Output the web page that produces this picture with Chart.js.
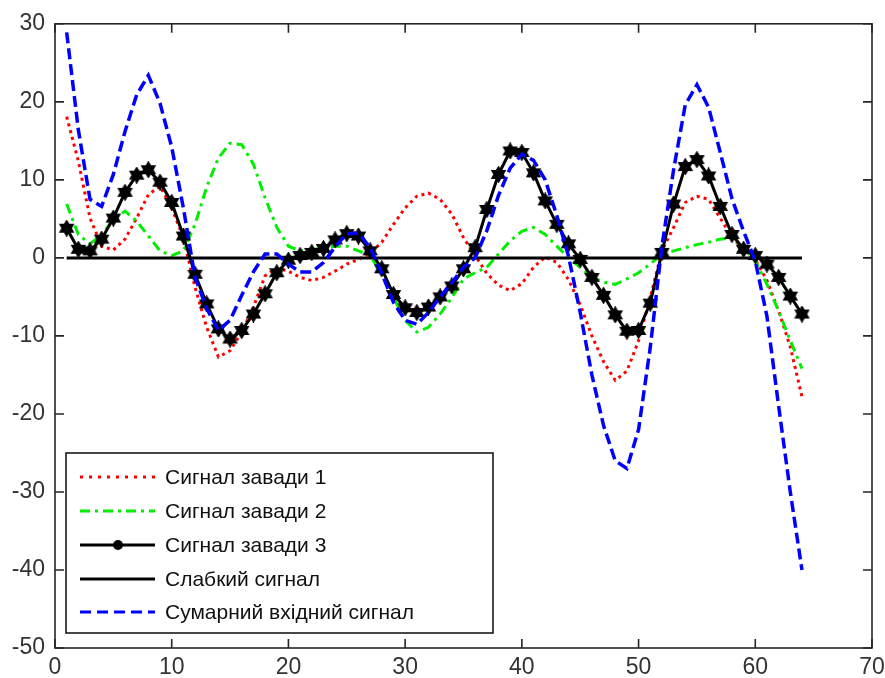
<!DOCTYPE html>
<html lang='uk'>

<head>
    <meta charset='UTF-8'>
    <title>Сигнали</title>
    <script src="https://cdn.jsdelivr.net/npm/chart.js"></script>
    <style>
        body { margin: 0; background: #fff; }
    </style>
</head>

<body>
    <canvas id="myChart" width="885" height="678"></canvas>

    <script>
        const x_arr = [1, 2, 3, 4, 5, 6, 7, 8, 9, 10, 11, 12, 13, 14, 15, 16,
            17, 18, 19, 20, 21, 22, 23, 24, 25, 26, 27, 28, 29, 30, 31, 32,
            33, 34, 35, 36, 37, 38, 39, 40, 41, 42, 43, 44, 45, 46, 47, 48,
            49, 50, 51, 52, 53, 54, 55, 56, 57, 58, 59, 60, 61, 62, 63, 64];

        const noise1 = [18.1, 12.4, 5.1, 1.5, 1.0, 2.4, 5.1, 8.1, 9.2, 6.4, 2.6, -3.8, -8.9, -12.7, -11.9, -9.5,
            -6.3, -2.3, -1.3, -1.7, -2.5, -2.9, -2.5, -1.7, -0.8, -0.2, 0.6, 2.0, 4.3, 6.4, 7.9, 8.3,
            7.5, 5.6, 2.6, 0.3, -2.0, -3.5, -4.2, -3.3, -1.2, 0.1, -0.6, -2.8, -6.0, -10.0, -13.3, -15.7,
            -14.5, -10.6, -5.1, 0.9, 3.9, 7.1, 7.9, 7.5, 5.1, 2.6, 1.1, -0.2, -2.9, -6.8, -11.4, -17.8];

        const noise2 = [6.9, 3.0, 1.8, 3.0, 4.9, 6.0, 4.7, 2.8, 0.9, 0.3, 0.9, 4.3, 9.1, 12.8, 14.7, 14.5,
            12.0, 7.7, 3.9, 1.5, 0.9, 1.0, 1.3, 1.5, 1.5, 0.9, 0.3, -2.1, -5.1, -8.0, -9.5, -8.9,
            -7.2, -5.1, -2.7, -1.9, -1.2, 0.5, 2.2, 3.4, 3.9, 3.0, 1.5, 0.0, -1.2, -2.5, -3.1, -3.4,
            -2.7, -1.9, -0.8, 0.5, 0.9, 1.3, 1.7, 2.0, 2.4, 2.6, 1.3, -0.4, -3.4, -6.8, -10.6, -14.2];

        const noise3 = [3.8, 1.1, 0.9, 2.4, 5.1, 8.4, 10.6, 11.3, 9.7, 7.1, 2.8, -2.1, -5.9, -9.1, -10.4, -9.3,
            -7.2, -4.6, -1.9, -0.3, 0.3, 0.7, 1.2, 2.3, 3.1, 2.8, 0.9, -1.4, -4.7, -6.4, -7.0, -6.3,
            -5.0, -3.6, -1.4, 1.3, 6.2, 10.7, 13.7, 13.5, 10.9, 7.3, 4.3, 1.8, -0.2, -2.5, -4.8, -7.3,
            -9.4, -9.3, -5.8, 0.7, 6.9, 11.7, 12.6, 10.5, 6.6, 3.0, 1.1, 0.3, -0.8, -2.5, -4.9, -7.2];

        const weak = [0, 0, 0, 0, 0, 0, 0, 0, 0, 0, 0, 0, 0, 0, 0, 0,
            0, 0, 0, 0, 0, 0, 0, 0, 0, 0, 0, 0, 0, 0, 0, 0,
            0, 0, 0, 0, 0, 0, 0, 0, 0, 0, 0, 0, 0, 0, 0, 0,
            0, 0, 0, 0, 0, 0, 0, 0, 0, 0, 0, 0, 0, 0, 0, 0];

        const total = [28.9, 16.4, 7.5, 6.6, 10.7, 16.2, 20.9, 23.4, 19.8, 14.2, 6.4, -2.5, -6.5, -9.3, -8.0, -4.8,
            -1.8, 0.5, 0.5, -0.8, -1.8, -1.8, -0.6, 1.4, 3.1, 3.2, 1.3, -2.0, -5.7, -8.0, -8.5, -7.0,
            -5.0, -3.2, -1.2, 0.0, 3.5, 8.0, 11.5, 13.3, 12.5, 10.0, 5.4, 0.2, -7.0, -15.0, -21.5, -26.0,
            -27.0, -22.0, -11.5, 1.5, 11.3, 19.6, 22.2, 19.3, 13.5, 7.6, 3.4, -0.4, -7.5, -19.0, -30.0, -40.0];

        const x_ticks = [0, 10, 20, 30, 40, 50, 60, 70];
        const y_ticks = [-50, -40, -30, -20, -10, 0, 10, 20, 30];

        const names = ['Сигнал завади 1', 'Сигнал завади 2', 'Сигнал завади 3',
            'Слабкий сигнал', 'Сумарний вхідний сигнал'];

        const font_family = '"Liberation Sans", Arial, sans-serif';

        // filled six-point star for series 3
        function make_star() {
            const c = document.createElement('canvas');
            c.width = 17; c.height = 17;
            const g = c.getContext('2d');
            g.fillStyle = '#000';
            g.strokeStyle = '#000';
            g.lineWidth = 1.2;
            g.beginPath();
            for (let i = 0; i < 12; i++) {
                const r = i % 2 == 0 ? 7.8 : 4.6;
                const a = -Math.PI / 2 + i * Math.PI / 6;
                const px = 8.5 + r * Math.cos(a);
                const py = 8.5 + r * Math.sin(a);
                if (i == 0) g.moveTo(px, py); else g.lineTo(px, py);
            }
            g.closePath();
            g.fill();
            g.stroke();
            return c;
        }
        const star = make_star();

        function pts(arr) {
            return arr.map((v, i) => ({ x: x_arr[i], y: v }));
        }

        // MATLAB-like box with inward ticks
        const frame_plugin = {
            id: 'frame',
            afterDraw(chart) {
                const ctx = chart.ctx;
                const { left, right, top, bottom } = chart.chartArea;
                const xs = chart.scales.x, ys = chart.scales.y;
                ctx.save();
                ctx.strokeStyle = '#262626';
                ctx.lineWidth = 1.6;
                ctx.strokeRect(left, top, right - left, bottom - top);
                ctx.beginPath();
                xs.ticks.forEach(t => {
                    const p = xs.getPixelForValue(t.value);
                    ctx.moveTo(p, bottom); ctx.lineTo(p, bottom - 9);
                    ctx.moveTo(p, top); ctx.lineTo(p, top + 9);
                });
                ys.ticks.forEach(t => {
                    const p = ys.getPixelForValue(t.value);
                    ctx.moveTo(left, p); ctx.lineTo(left + 9, p);
                    ctx.moveTo(right, p); ctx.lineTo(right - 9, p);
                });
                ctx.stroke();
                ctx.restore();
            }
        };

        // legend box in lower left corner
        const legend_plugin = {
            id: 'boxLegend',
            afterDraw(chart) {
                const ctx = chart.ctx;
                const bx = 66, by = 453, bw = 427, bh = 180;
                const rows = [477, 511, 545, 579, 612];
                ctx.save();
                ctx.fillStyle = '#fff';
                ctx.fillRect(bx, by, bw, bh);
                ctx.strokeStyle = '#1a1a1a';
                ctx.lineWidth = 1.6;
                ctx.strokeRect(bx, by, bw, bh);
                names.forEach((name, i) => {
                    const ds = chart.data.datasets.find(d => d.label == name);
                    const y = rows[i];
                    ctx.strokeStyle = ds.borderColor;
                    ctx.lineWidth = 3;
                    ctx.setLineDash(ds.legendDash || []);
                    ctx.beginPath();
                    ctx.moveTo(80, y);
                    ctx.lineTo(155, y);
                    ctx.stroke();
                    ctx.setLineDash([]);
                    if (ds.pointRadius > 0) {
                        ctx.fillStyle = '#000';
                        ctx.beginPath();
                        ctx.arc(118, y, 5, 0, Math.PI * 2);
                        ctx.fill();
                    }
                    ctx.fillStyle = '#111';
                    ctx.font = '21px ' + font_family;
                    ctx.textBaseline = 'middle';
                    ctx.fillText(name, 165, y + 1);
                });
                ctx.restore();
            }
        };

        new Chart(document.getElementById('myChart'), {
            type: 'line',
            data: {
                datasets: [{
                    label: names[0],
                    data: pts(noise1),
                    borderColor: '#ff0000',
                    borderWidth: 3,
                    borderDash: [3, 4],
                    legendDash: [3, 6],
                    pointRadius: 0,
                    order: 5
                }, {
                    label: names[1],
                    data: pts(noise2),
                    borderColor: '#00ee00',
                    borderWidth: 3,
                    borderDash: [10, 5, 3, 5],
                    legendDash: [10, 5, 3, 5],
                    pointRadius: 0,
                    order: 4
                }, {
                    label: names[2],
                    data: pts(noise3),
                    borderColor: '#000000',
                    borderWidth: 3,
                    pointStyle: star,
                    pointRadius: 7,
                    order: 3
                }, {
                    label: names[3],
                    data: pts(weak),
                    borderColor: '#000000',
                    borderWidth: 3,
                    pointRadius: 0,
                    order: 2
                }, {
                    label: names[4],
                    data: pts(total),
                    borderColor: '#0000ff',
                    borderWidth: 3.5,
                    borderDash: [11, 5],
                    legendDash: [11, 6],
                    pointRadius: 0,
                    order: 1
                }]
            },
            options: {
                responsive: false,
                animation: false,
                layout: { padding: { top: 22, right: 13, left: 0, bottom: 0 } },
                plugins: {
                    legend: { display: false },
                    tooltip: { enabled: false }
                },
                scales: {
                    x: {
                        type: 'linear',
                        min: 0,
                        max: 70,
                        afterBuildTicks: (s) => { s.ticks = x_ticks.map(v => ({ value: v })); },
                        afterFit: (s) => { s.height = 30; s.paddingRight = 0; },
                        grid: { display: false, drawTicks: false },
                        border: { display: false },
                        ticks: {
                            color: '#333',
                            padding: 6,
                            maxRotation: 0,
                            font: { size: 23, family: font_family }
                        }
                    },
                    y: {
                        type: 'linear',
                        min: -50,
                        max: 30,
                        afterBuildTicks: (s) => { s.ticks = y_ticks.map(v => ({ value: v })); },
                        afterFit: (s) => { s.width = 55; },
                        grid: { display: false, drawTicks: false },
                        border: { display: false },
                        ticks: {
                            color: '#333',
                            padding: 10,
                            font: { size: 23, family: font_family }
                        }
                    }
                }
            },
            plugins: [frame_plugin, legend_plugin]
        });
    </script>

</body>

</html>
